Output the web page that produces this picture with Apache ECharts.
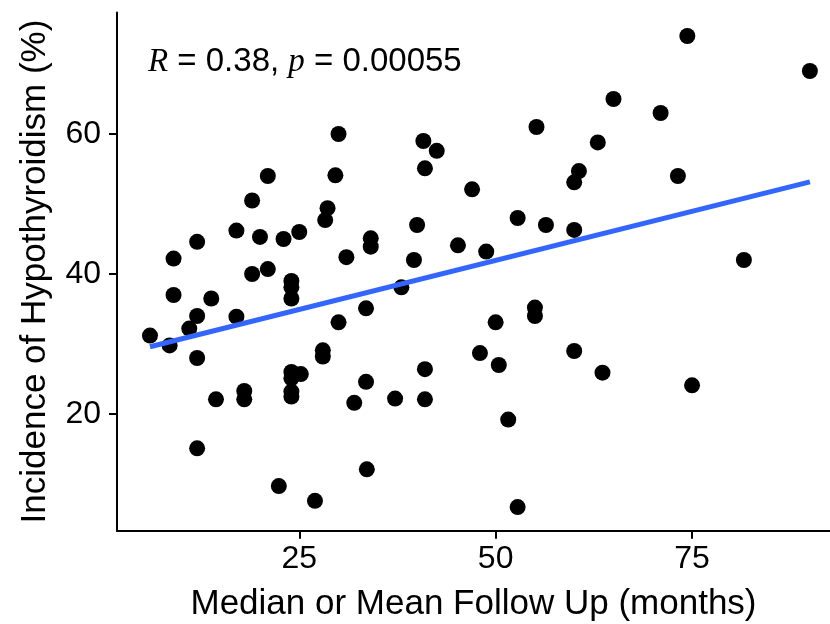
<!DOCTYPE html>
<html>
<head>
<meta charset="utf-8">
<script src="https://cdn.jsdelivr.net/npm/echarts@6.0.0/dist/echarts.min.js"></script>
<style>
  html, body { margin: 0; padding: 0; background: #fff; }
  #chart { width: 830px; height: 624px; }
</style>
</head>
<body>
<div id="chart"></div>
<script>
// follow up (months) and incidence (%), one entry per study
const followUp = [
  30.0, 21.0, 29.6, 55.2, 40.8, 42.5, 41.0, 47.0, 63.0, 60.6,
  60.0, 74.4, 90.0, 65.0, 71.0, 73.2, 19.0, 28.6, 28.3, 12.0,
  17.0, 20.0, 23.0, 25.0, 34.1, 34.1, 9.0, 31.0, 19.0, 21.0,
  24.0, 24.0, 24.0, 9.0, 13.8, 12.0, 17.0, 30.0, 33.5, 11.0,
  6.0, 8.5, 12.0, 28.0, 28.0, 40.0, 52.8, 56.4, 60.0, 45.2,
  48.8, 39.6, 38.0, 55.0, 55.0, 50.0, 60.0, 48.0, 50.4, 81.6,
  24.0, 25.2, 24.0, 24.0, 24.0, 18.0, 18.0, 14.4, 32.0, 33.5,
  12.0, 33.6, 22.4, 27.0, 41.0, 37.2, 41.0, 51.6, 63.6, 52.8, 75.0
]
const incidence = [
  60.0, 54.0, 54.1, 61.0, 59.0, 57.6, 55.1, 52.1, 58.8, 54.7,
  53.1, 74.0, 69.0, 65.0, 63.0, 54.0, 50.5, 49.4, 47.7, 44.6,
  46.2, 45.3, 45.0, 46.0, 45.1, 43.9, 42.2, 42.4, 40.0, 40.7,
  39.0, 38.1, 36.5, 37.0, 36.5, 34.0, 33.9, 33.1, 35.1, 32.2,
  31.2, 29.8, 28.0, 29.1, 28.2, 47.0, 48.0, 47.0, 46.3, 44.1,
  43.2, 42.0, 38.1, 35.2, 34.0, 33.1, 29.0, 28.7, 27.0, 42.0,
  26.0, 25.7, 25.1, 23.2, 22.5, 23.3, 22.1, 22.1, 21.6, 24.6,
  15.1, 12.1, 9.7, 7.6, 26.4, 22.2, 22.1, 19.2, 25.9, 6.7, 24.1
]
const xTicks = [25, 50, 75]
const yTicks = [20, 40, 60]
const statLabel = '{i|R} = 0.38, {i|p} = 0.00055'

const sans = 'Liberation Sans, Arial, Helvetica, sans-serif'
const points = followUp.map((x, i) => [x, incidence[i]])

// least squares fit for the reg line
function fitLine(xs, ys) {
  const n = xs.length
  const mx = xs.reduce((s, v) => s + v, 0) / n
  const my = ys.reduce((s, v) => s + v, 0) / n
  let sxy = 0
  let sxx = 0
  xs.forEach((x, i) => {
    sxy += (x - mx) * (ys[i] - my)
    sxx += (x - mx) * (x - mx)
  })
  const slope = sxy / sxx
  return { slope, intercept: my - slope * mx }
}

const fit = fitLine(followUp, incidence)
const xLo = Math.min(...followUp)
const xHi = Math.max(...followUp)
const regLine = [xLo, xHi].map((x) => [x, fit.intercept + fit.slope * x])

const chart = echarts.init(document.getElementById('chart'))
chart.setOption({
  animation: false,
  grid: { left: 117, right: 0, top: 12.4, bottom: 93.3, containLabel: false, outerBoundsMode: 'none' },
  xAxis: {
    type: 'value',
    min: 1.8,
    max: 92.56,
    name: 'Median or Mean Follow Up (months)',
    nameLocation: 'middle',
    nameGap: 56,
    nameTextStyle: { color: '#000', fontSize: 35, fontFamily: sans },
    axisLine: { show: true, lineStyle: { color: '#000', width: 2 } },
    axisTick: { show: true, length: 8, lineStyle: { color: '#000', width: 2 }, customValues: xTicks },
    axisLabel: { color: '#000', fontSize: 32, fontFamily: sans, margin: 12, customValues: xTicks },
    splitLine: { show: false }
  },
  yAxis: {
    type: 'value',
    min: 3.33,
    max: 77.37,
    name: 'Incidence of Hypothyroidism (%)',
    nameLocation: 'middle',
    nameGap: 64,
    nameTextStyle: { color: '#000', fontSize: 35, fontFamily: sans },
    axisLine: { show: true, lineStyle: { color: '#000', width: 2 } },
    axisTick: { show: true, length: 8, lineStyle: { color: '#000', width: 2 }, customValues: yTicks },
    axisLabel: { color: '#000', fontSize: 32, fontFamily: sans, margin: 16, customValues: yTicks },
    splitLine: { show: false }
  },
  graphic: [
    {
      type: 'text',
      x: 148,
      y: 62,
      style: {
        text: statLabel,
        fill: '#000',
        fontSize: 33,
        fontFamily: sans,
        verticalAlign: 'middle',
        rich: {
          i: { fontFamily: 'Liberation Serif, Times New Roman, serif', fontStyle: 'italic', fontSize: 33, fill: '#000' }
        }
      }
    }
  ],
  series: [
    {
      type: 'scatter',
      data: points,
      symbolSize: 16,
      itemStyle: { color: '#000', opacity: 1 },
      z: 2
    },
    {
      type: 'line',
      data: regLine,
      showSymbol: false,
      symbol: 'none',
      lineStyle: { color: '#3366FF', width: 5 },
      z: 3
    }
  ]
})
</script>
</body>
</html>
